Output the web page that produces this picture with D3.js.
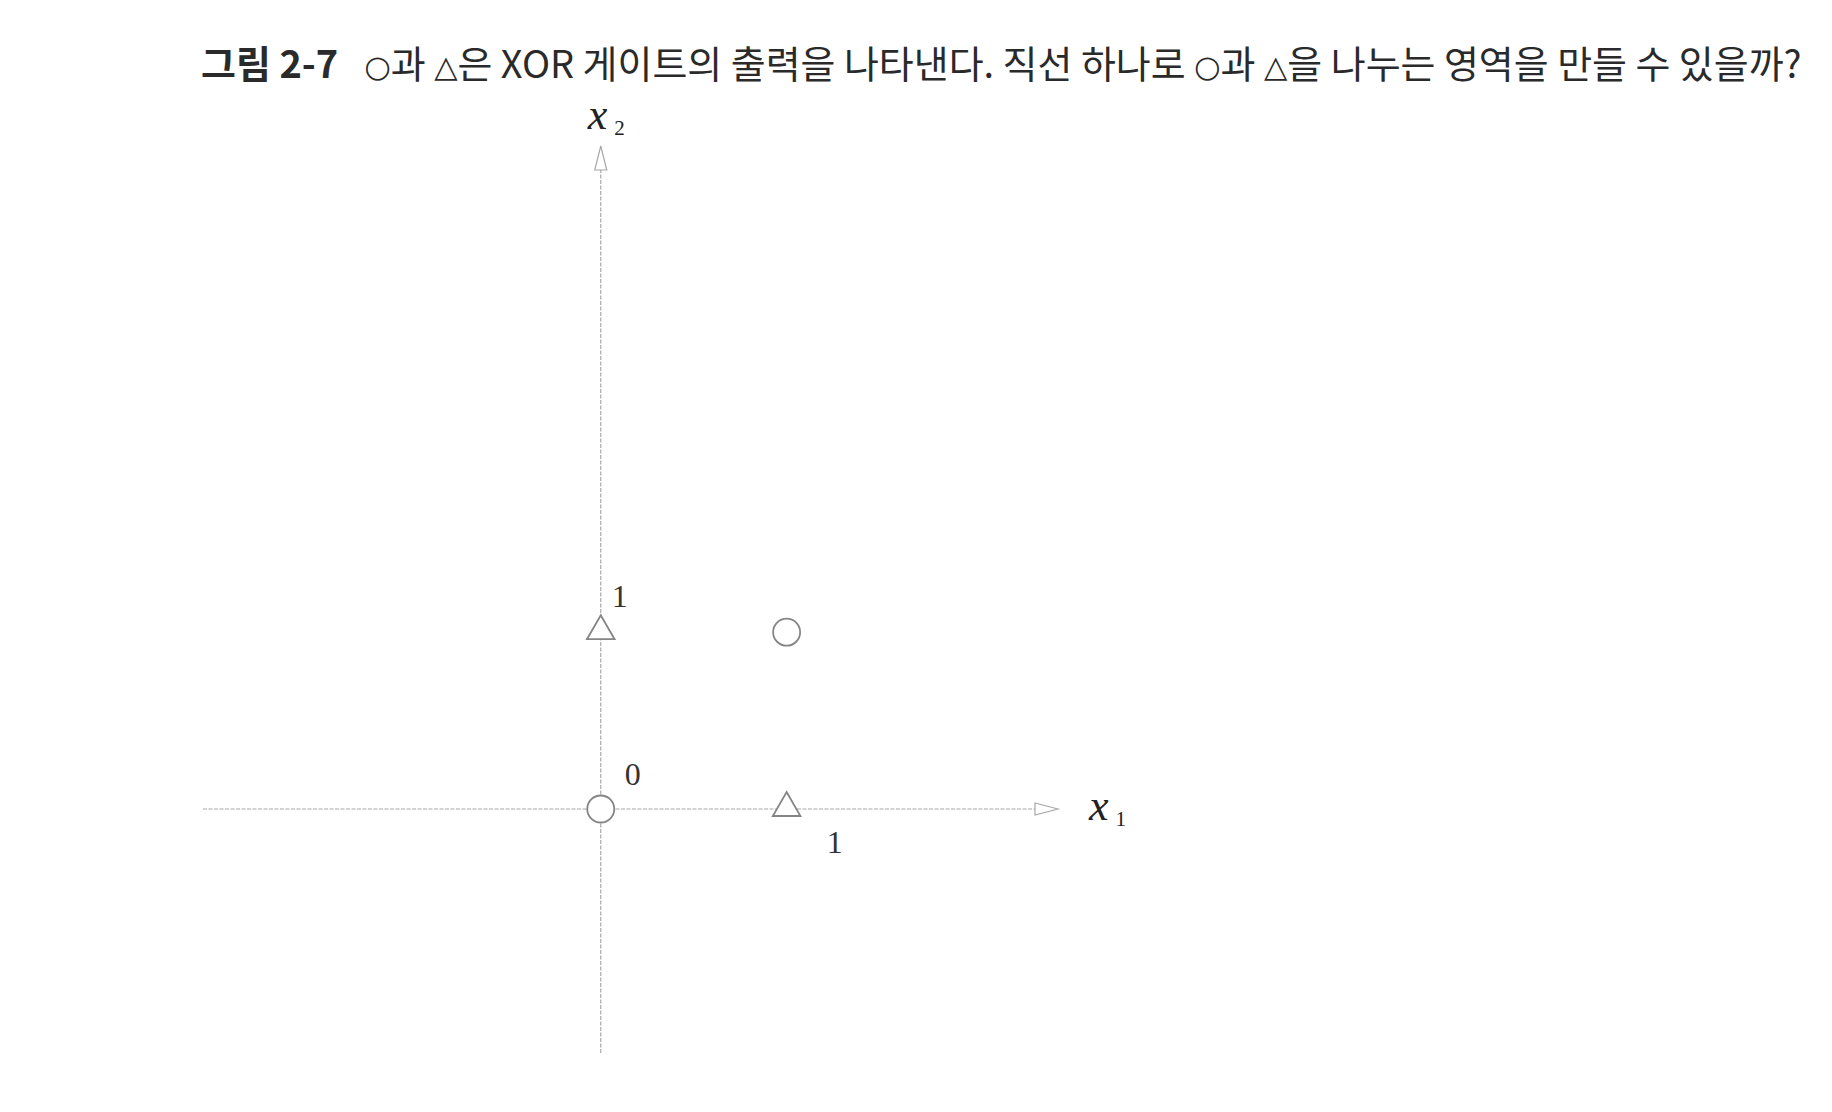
<!DOCTYPE html>
<html><head><meta charset="utf-8">
<script src="https://cdn.jsdelivr.net/npm/d3@7"></script>
<style>html,body{margin:0;padding:0;background:#fff;}</style>
</head><body>
<svg id="c" width="1832" height="1112"></svg>
<script>
const titleBold = "그림 2-7";
const titleParts = ["○", "과 ", "△", "은 XOR 게이트의 출력을 나타낸다. 직선 하나로 ", "○", "과 ", "△", "을 나누는 영역을 만들 수 있을까?"];
const xDomain = [-2.14, 2.46];
const yDomain = [-1.38, 3.75];
const pointX = [0, 1, 1, 0];
const pointY = [0, 1, 0, 1];
const pointShape = ["circle", "circle", "triangle", "triangle"];
const tickLabels = [
  {axis: "origin", text: "0"},
  {axis: "x", text: "1"},
  {axis: "y", text: "1"}
];

const svg = d3.select("#c");
const x = d3.scaleLinear().domain(xDomain).range([203, 1058]);
const y = d3.scaleLinear().domain(yDomain).range([1053, 146]);

// title
const t = svg.append("text").attr("x", 201).attr("y", 78)
  .attr("font-family", "'Noto Sans CJK KR','Noto Sans',sans-serif")
  .attr("font-size", 31).attr("fill", "#2a2a2a");
t.append("tspan").attr("font-weight", "bold").text(titleBold);
titleParts.forEach((p, i) => {
  const sp = t.append("tspan").text(p);
  if (i === 0) sp.attr("dx", 26);
  if (p === "○" || p === "△") sp.attr("font-size", "0.8em").attr("dy", -1).attr("font-family", "'DejaVu Sans',sans-serif");
  else if (i > 0 && (titleParts[i - 1] === "○" || titleParts[i - 1] === "△")) sp.attr("dy", 1);
});
const w = t.node().getComputedTextLength();
const target = 1575;
t.attr("font-size", 31 * target / w);

const axisColor = "#a8a8a8";
// x axis
svg.append("line").attr("x1", x(xDomain[0])).attr("x2", x(xDomain[1]) - 22)
  .attr("y1", y(0)).attr("y2", y(0))
  .attr("stroke", axisColor).attr("stroke-width", 1.2).attr("stroke-dasharray", "4,1.5");
svg.append("path")
  .attr("d", `M${x(xDomain[1])},${y(0)} L${x(xDomain[1]) - 23},${y(0) - 6} L${x(xDomain[1]) - 23},${y(0) + 6} Z`)
  .attr("fill", "#fff").attr("stroke", axisColor).attr("stroke-width", 1.2);
// y axis
svg.append("line").attr("x1", x(0)).attr("x2", x(0))
  .attr("y1", y(yDomain[0])).attr("y2", y(yDomain[1]) + 22)
  .attr("stroke", axisColor).attr("stroke-width", 1.2).attr("stroke-dasharray", "4,1.5");
svg.append("path")
  .attr("d", `M${x(0)},${y(yDomain[1])} L${x(0) - 6},${y(yDomain[1]) + 24} L${x(0) + 6},${y(yDomain[1]) + 24} Z`)
  .attr("fill", "#fff").attr("stroke", axisColor).attr("stroke-width", 1.2);

// axis labels
const serif = "'Liberation Serif','DejaVu Serif',serif";
const xl = svg.append("text").attr("x", x(xDomain[1]) + 31).attr("y", y(0) + 11)
  .attr("font-family", serif).attr("fill", "#222");
xl.append("tspan").attr("font-style", "italic").attr("font-size", 44).text("x");
xl.append("tspan").attr("dx", 7).attr("dy", 6).attr("font-size", 21).text("1");
const yl = svg.append("text").attr("x", x(0) - 13).attr("y", y(yDomain[1]) - 17)
  .attr("font-family", serif).attr("fill", "#222");
yl.append("tspan").attr("font-style", "italic").attr("font-size", 44).text("x");
yl.append("tspan").attr("dx", 7).attr("dy", 6).attr("font-size", 21).text("2");

// tick labels
const tickPos = {
  origin: [x(0) + 32, y(0) - 24],
  x: [x(1) + 48, y(0) + 44],
  y: [x(0) + 19, y(1) - 25]
};
svg.selectAll("text.tick").data(tickLabels).enter().append("text")
  .attr("class", "tick")
  .attr("x", d => tickPos[d.axis][0]).attr("y", d => tickPos[d.axis][1])
  .attr("text-anchor", "middle").attr("font-family", serif)
  .attr("font-size", 32).attr("fill", "#333").text(d => d.text);

// points
const pts = pointX.map((v, i) => ({x: v, y: pointY[i], shape: pointShape[i]}));
const markStroke = "#858585";
svg.selectAll("circle.pt").data(pts.filter(d => d.shape === "circle")).enter()
  .append("circle").attr("class", "pt")
  .attr("cx", d => x(d.x)).attr("cy", d => y(d.y)).attr("r", 13.5)
  .attr("fill", "#fff").attr("stroke", markStroke).attr("stroke-width", 1.8);
const tri = d3.symbol().type(d3.symbolTriangle).size(330);
svg.selectAll("path.pt").data(pts.filter(d => d.shape === "triangle")).enter()
  .append("path").attr("class", "pt")
  .attr("transform", d => `translate(${x(d.x)},${y(d.y) - 1})`)
  .attr("d", tri)
  .attr("fill", "#fff").attr("stroke", markStroke).attr("stroke-width", 1.8);
</script>
</body></html>
